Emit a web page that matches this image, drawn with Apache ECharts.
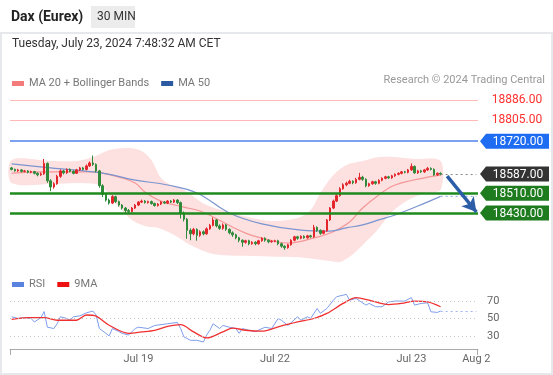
<!DOCTYPE html>
<html><head><meta charset="utf-8">
<script src="https://cdn.jsdelivr.net/npm/echarts@6/dist/echarts.min.js"></script>
<style>html,body{margin:0;padding:0;background:#fff}#c{width:553px;height:375px}</style>
</head><body><div id="c"></div>
<script>
// ---- categories (30-min bars per trading day) ----
const dayNames = ['Jul 18', 'Jul 19', 'Jul 22', 'Jul 23'];
const dayBarCounts = [39, 42, 42, 10];
const padCount = 11;
const endLabel = 'Aug 2';
const tickLabels = ['Jul 19', 'Jul 22', 'Jul 23', 'Aug 2'];

// ---- candles ----
const opens = [18612,18606,18600,18604,18598,18600,18594,18597,18590,18584,18588,18630,18560,18535,18548,18578,18600,18592,18606,18598,18590,18604,18612,18606,18620,18632,18626,18600,18540,18505,18482,18470,18496,18476,18462,18450,18440,18436,18450,18462,18474,18478,18472,18476,18468,18460,18466,18474,18470,18478,18474,18482,18472,18430,18405,18360,18346,18364,18340,18354,18346,18366,18380,18402,18378,18368,18382,18364,18350,18342,18330,18320,18312,18318,18306,18312,18306,18318,18328,18320,18314,18316,18318,18306,18296,18290,18302,18320,18334,18328,18336,18330,18338,18334,18372,18360,18348,18358,18402,18450,18478,18500,18528,18544,18550,18558,18552,18566,18574,18566,18540,18548,18556,18550,18562,18570,18576,18572,18580,18586,18590,18596,18594,18604,18618,18592,18600,18596,18604,18610,18606,18584,18590];
const closes = [18606,18600,18604,18598,18600,18594,18597,18590,18584,18588,18630,18560,18535,18548,18578,18600,18592,18606,18598,18590,18604,18612,18606,18620,18632,18626,18600,18540,18505,18482,18470,18496,18476,18462,18450,18440,18436,18450,18462,18474,18478,18472,18476,18468,18460,18466,18474,18470,18478,18474,18482,18472,18430,18405,18360,18346,18364,18340,18354,18346,18366,18380,18402,18378,18368,18382,18364,18350,18342,18330,18320,18312,18318,18306,18312,18306,18318,18328,18320,18314,18316,18318,18306,18296,18290,18302,18320,18334,18328,18336,18330,18338,18334,18372,18360,18348,18358,18402,18450,18478,18500,18528,18544,18550,18558,18552,18566,18574,18566,18540,18548,18556,18550,18562,18570,18576,18572,18580,18586,18590,18596,18594,18604,18618,18592,18600,18596,18604,18610,18606,18584,18590,18587];
const lows = [18602,18597,18596,18594,18594,18590,18590,18586,18578,18580,18584,18552,18518,18528,18544,18572,18586,18588,18594,18586,18588,18600,18602,18602,18616,18620,18594,18532,18494,18476,18464,18466,18470,18456,18444,18428,18430,18432,18446,18458,18470,18468,18468,18464,18456,18456,18462,18466,18466,18470,18470,18466,18408,18396,18326,18320,18340,18318,18334,18340,18342,18362,18376,18372,18362,18362,18358,18344,18334,18324,18312,18294,18306,18300,18302,18300,18302,18314,18314,18308,18310,18312,18300,18290,18282,18286,18298,18316,18322,18324,18326,18326,18330,18330,18354,18342,18344,18354,18398,18446,18474,18496,18524,18538,18546,18546,18548,18562,18560,18534,18536,18544,18544,18546,18558,18566,18568,18568,18576,18582,18586,18590,18590,18600,18588,18588,18592,18592,18600,18602,18580,18580,18582];
const highs = [18616,18609,18608,18607,18604,18603,18601,18600,18594,18594,18648,18634,18566,18554,18584,18606,18604,18610,18610,18602,18608,18616,18616,18626,18638,18662,18630,18604,18546,18510,18488,18502,18500,18480,18466,18454,18446,18454,18466,18478,18484,18482,18480,18480,18472,18470,18478,18478,18482,18482,18486,18486,18476,18436,18410,18368,18370,18368,18360,18360,18372,18386,18412,18406,18384,18388,18386,18368,18356,18346,18334,18324,18322,18322,18316,18316,18322,18332,18332,18324,18320,18322,18322,18310,18300,18306,18324,18338,18338,18340,18340,18342,18342,18382,18376,18364,18362,18406,18454,18484,18506,18534,18550,18556,18564,18562,18572,18592,18580,18570,18552,18560,18560,18566,18574,18580,18580,18584,18590,18594,18600,18600,18608,18630,18622,18604,18604,18608,18616,18614,18610,18594,18594];

// ---- indicators, [bar index, value] ----
const ma20 = [[0,18591],[10,18596],[20,18596],[26,18596],[28,18591],[33,18575],[38,18551],[41,18515],[46,18478],[53,18454],[58,18438],[62,18414],[72,18349],[82,18313],[85,18309],[94,18333],[98,18349],[104,18394],[108,18450],[113,18503],[118,18543],[128,18575],[132,18583]];
const ma50 = [[0,18628],[12,18612],[28,18591],[38,18563],[48,18543],[57,18511],[67,18430],[77,18386],[89,18361],[98,18357],[103,18370],[108,18382],[113,18402],[118,18422],[125,18458],[132,18497]];
const ma50Proj = [[132,18497],[143,18497]];
const bbUpper = [[0,18644],[12,18640],[20,18640],[26,18660],[30,18684],[36,18692],[40,18680],[43,18644],[46,18571],[49,18543],[53,18523],[60,18462],[70,18422],[80,18398],[88,18410],[92,18442],[95,18511],[99,18583],[103,18624],[108,18640],[113,18656],[118,18656],[124,18648],[132,18640]];
const bbLower = [[0,18551],[12,18547],[20,18551],[26,18547],[28,18535],[33,18454],[37,18402],[41,18378],[45,18370],[50,18341],[55,18301],[62,18265],[72,18257],[82,18253],[90,18249],[98,18236],[101,18232],[104,18253],[108,18301],[112,18353],[117,18434],[122,18482],[127,18511],[132,18523]];
const rsi = [[0,52],[2,50],[4,51],[6,50],[7,46],[9,51],[10,58],[11,40],[13,38.5],[14,44],[15,52],[17,50],[18,48],[19,52],[21,53],[23,56.5],[25,58.5],[26,54],[27,38.5],[29,33],[30,30],[31,38.5],[33,35],[34,33],[36,31],[38,38.5],[39,40],[42,38.5],[44,42],[48,44],[51,45.5],[52,38.5],[53,29],[55,25],[57,25],[59,23],[60,31],[61,36.5],[62,44],[64,38.5],[65,42],[67,40],[69,38.5],[70,33],[71,38.5],[73,36.5],[75,35],[78,40],[80,38.5],[82,50],[83,48],[85,42],[88,52],[89,48],[91,52],[92,50],[94,61.5],[95,56],[97,61.5],[99,71],[100,75],[103,77.7],[104,71],[106,73],[109,65.4],[110,67.3],[112,63.5],[114,63.5],[116,69],[118,70],[121,70],[123,74],[124,65.4],[126,67.3],[128,68],[129,57.7],[131,57],[132,58.5]];
const rsiProj = [[132,58],[143,58]];
const rsiMa9 = [[0,49],[5,51],[10,51],[14,48],[20,48],[23,54],[26,52.7],[30,42.3],[36,33],[40,34.6],[44,36.5],[48,41],[52,43],[56,34.6],[60,27.7],[65,34.6],[68,39],[72,36.5],[77,35.4],[82,40.4],[88,46],[93,50],[97,55.8],[102,67.3],[106,74],[110,71],[116,66],[120,67.3],[124,70],[128,69],[132,63.5]];
const rsiLevels = [30, 50, 70];

// ---- key levels ----
const resistText = [18886, 18805];
const tagLevels = [18720, 18587, 18510, 18430];
const tagColors = ['#1d6cf2', '#333333', '#1e7b1e', '#1e7b1e'];
const lastPrice = 18587;
const arrowFrom = [134, 18579];
const arrowTo = [143, 18434];

// ---- build categories ----
const categories = [];
dayNames.forEach((d, i) => {
  for (let k = 0; k < dayBarCounts[i]; k++) categories.push(k === 0 ? d : d + ' #' + k);
});
for (let k = 0; k < padCount - 1; k++) categories.push('pad #' + k);
categories.push(endLabel);

const candleData = opens.map((o, i) => [o, closes[i], lows[i], highs[i]]);
const FONT = 'Roboto, "Liberation Sans", Arial, sans-serif';

const chart = echarts.init(document.getElementById('c'), null, {renderer: 'canvas'});
const tagData = resistText.map(v => [0, v, 0]).concat(tagLevels.map((v, i) => [0, v, 1]));

chart.setOption({
  animation: false,
  textStyle: {fontFamily: FONT},
  grid: [
    {left: 10, width: 468, top: 89.1, height: 180.9},
    {left: 10, width: 468, top: 288, height: 61}
  ],
  xAxis: [
    {type: 'category', gridIndex: 0, data: categories, show: false, boundaryGap: true},
    {type: 'category', gridIndex: 1, data: categories, boundaryGap: true,
      axisLine: {lineStyle: {color: '#aaaaaa', width: 1}},
      axisTick: {show: false},
      axisLabel: {
        color: '#666', fontSize: 11, margin: 5, fontFamily: FONT,
        interval: (i, v) => tickLabels.indexOf(v) >= 0,
        formatter: v => v
      },
      splitLine: {show: false}
    }
  ],
  yAxis: [
    {type: 'value', gridIndex: 0, min: 18200, max: 18930, show: false, splitLine: {show: false}},
    {type: 'value', gridIndex: 1, min: 15, max: 85, show: false, splitLine: {show: false}}
  ],
  legend: [
    {left: 7, top: 73, icon: 'rect', itemWidth: 12, itemHeight: 5, itemGap: 12, selectedMode: false,
      textStyle: {color: '#777', fontSize: 11, fontFamily: FONT},
      data: [{name: 'MA 20 + Bollinger Bands', itemStyle: {color: '#f47b7b'}}, {name: 'MA 50', itemStyle: {color: '#2c5aa0'}}]},
    {left: 7, top: 274, icon: 'rect', itemWidth: 12, itemHeight: 5, itemGap: 12, selectedMode: false,
      textStyle: {color: '#777', fontSize: 11, fontFamily: FONT},
      data: [{name: 'RSI', itemStyle: {color: '#5a83e0'}}, {name: '9MA', itemStyle: {color: '#ee1111'}}]}
  ],
  graphic: [
    {type: 'rect', shape: {x: 1, y: 33, width: 551, height: 341}, style: {fill: 'none', stroke: '#e6e8eb', lineWidth: 2}, silent: true},
    {type: 'text', left: 11, top: 10, style: {text: 'Dax (Eurex)', font: 'bold 14px ' + FONT, fill: '#222'}},
    {type: 'rect', shape: {x: 91, y: 6, width: 44, height: 22}, style: {fill: '#ececec'}},
    {type: 'text', left: 97, top: 11, style: {text: '30 MIN', font: '12px ' + FONT, fill: '#333'}},
    {type: 'text', left: 12, top: 38, style: {text: 'Tuesday, July 23, 2024 7:48:32 AM CET', font: '12px ' + FONT, fill: '#333'}},
    {type: 'text', right: 8, top: 75, style: {text: 'Research \u00a9 2024 Trading Central', font: '11px ' + FONT, fill: '#999'}},
    {type: 'line', shape: {x1: 10.5, y1: 349, x2: 10.5, y2: 355}, style: {stroke: '#aaa', lineWidth: 1}},
    {type: 'line', shape: {x1: 477.5, y1: 349, x2: 477.5, y2: 355}, style: {stroke: '#aaa', lineWidth: 1}}
  ],
  series: [
    {name: 'bb', type: 'custom', xAxisIndex: 0, yAxisIndex: 0, data: [[0, 18500]], z: 1, silent: true,
      renderItem: function (params, api) {
        const pts = bbUpper.map(p => api.coord(p)).concat(bbLower.slice().reverse().map(p => api.coord(p)));
        return {type: 'polygon', shape: {points: pts, smooth: 0.3}, style: {fill: '#fde0e0'}};
      }
    },
    {name: 'MA 20 + Bollinger Bands', type: 'line', xAxisIndex: 0, yAxisIndex: 0, data: ma20, smooth: 0.4, symbol: 'none',
      lineStyle: {color: '#f59696', width: 1.2}, itemStyle: {color: '#f47b7b'}, z: 2},
    {name: 'MA 50', type: 'line', xAxisIndex: 0, yAxisIndex: 0, data: ma50, smooth: 0.4, symbol: 'none',
      lineStyle: {color: '#7a95cf', width: 1.2}, itemStyle: {color: '#2c5aa0'}, z: 2},
    {name: 'ma50proj', type: 'line', xAxisIndex: 0, yAxisIndex: 0, data: ma50Proj, symbol: 'none',
      lineStyle: {color: '#9fb3e0', width: 1.2, type: [2, 3]}, z: 2},
    {name: 'price', type: 'candlestick', xAxisIndex: 0, yAxisIndex: 0, data: candleData, barWidth: 2,
      itemStyle: {color: '#e2262c', color0: '#2f8a3a', borderColor: '#e2262c', borderColor0: '#2f8a3a', borderWidth: 1}, z: 3,
      markLine: {
        silent: true, symbol: ['none', 'none'], label: {show: false}, z: 4,
        data: [
          {yAxis: resistText[0], lineStyle: {color: '#ffb8b8', width: 1, type: 'solid'}},
          {yAxis: resistText[1], lineStyle: {color: '#ffb8b8', width: 1, type: 'solid'}},
          {yAxis: tagLevels[0], lineStyle: {color: '#4f82ee', width: 1.5, type: 'solid'}},
          {yAxis: tagLevels[2], lineStyle: {color: '#1e8a1e', width: 2.5, type: 'solid'}},
          {yAxis: tagLevels[3], lineStyle: {color: '#1e8a1e', width: 2.5, type: 'solid'}},
          [{coord: [132, lastPrice], lineStyle: {color: '#888', width: 1, type: [2, 3]}}, {coord: [143, lastPrice]}],
          [{coord: arrowFrom, symbol: 'none', lineStyle: {color: '#2b5ea7', width: 3.5, type: 'solid'}},
           {coord: arrowTo, symbol: 'arrow', symbolSize: [12, 14]}]
        ]
      }
    },
    {name: 'tags', type: 'custom', xAxisIndex: 0, yAxisIndex: 0, data: tagData, clip: false, z: 5, silent: true,
      renderItem: function (params, api) {
        const cs = params.coordSys;
        const xr = cs.x + cs.width;
        const y = api.coord([0, api.value(1)])[1];
        const idx = params.dataIndex;
        const txt = api.value(1).toFixed(2);
        if (api.value(2) === 0) {
          return {type: 'text', style: {text: txt, x: xr + 39, y: y, align: 'center', verticalAlign: 'middle', font: '12px ' + FONT, fill: '#ff3030'}};
        }
        const col = tagColors[idx - resistText.length];
        return {type: 'group', children: [
          {type: 'polygon', shape: {points: [[xr + 2, y], [xr + 8, y - 7.5], [xr + 71, y - 7.5], [xr + 71, y + 7.5], [xr + 8, y + 7.5]]}, style: {fill: col}},
          {type: 'text', style: {text: txt, x: xr + 40, y: y + 0.5, align: 'center', verticalAlign: 'middle', font: '12px ' + FONT, fill: '#fff'}}
        ]};
      }
    },
    {name: 'RSI', type: 'line', xAxisIndex: 1, yAxisIndex: 1, data: rsi, symbol: 'none',
      lineStyle: {color: '#7d9deb', width: 1}, itemStyle: {color: '#5a83e0'}, z: 2,
      markLine: {
        silent: true, symbol: ['none', 'none'],
        lineStyle: {color: '#c8c8c8', width: 1, type: [1, 3]},
        label: {show: true, position: 'end', distance: 9, color: '#666', fontSize: 11, fontFamily: FONT, formatter: p => p.value},
        data: rsiLevels.map(v => ({yAxis: v}))
      }
    },
    {name: 'rsiproj', type: 'line', xAxisIndex: 1, yAxisIndex: 1, data: rsiProj, symbol: 'none',
      lineStyle: {color: '#9fb3ee', width: 1, type: [2, 3]}, z: 2},
    {name: '9MA', type: 'line', xAxisIndex: 1, yAxisIndex: 1, data: rsiMa9, smooth: 0.3, symbol: 'none',
      lineStyle: {color: '#f03030', width: 1.3}, itemStyle: {color: '#ee1111'}, z: 3}
  ]
});
</script></body></html>
